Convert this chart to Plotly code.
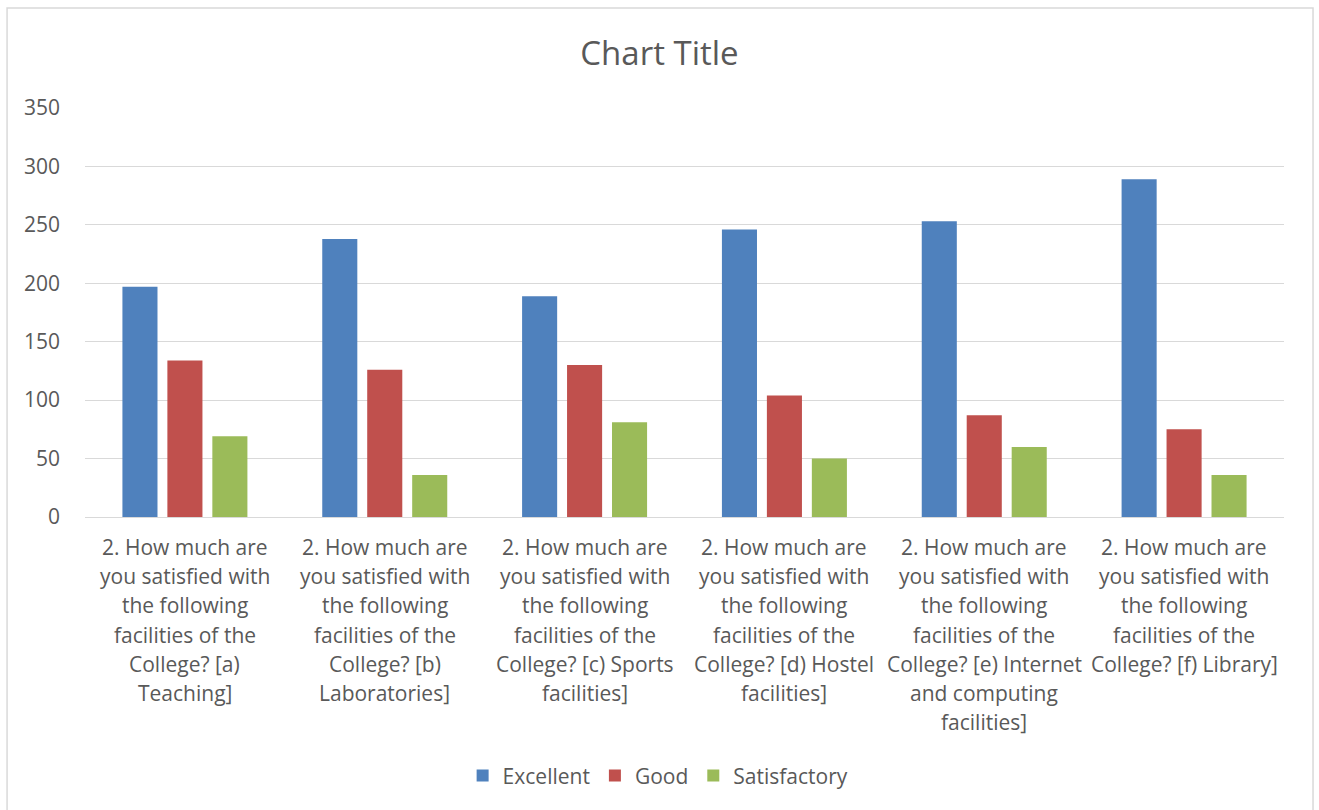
import plotly.graph_objects as go

# Survey: satisfaction with college facilities
categories = [
    "2. How much are you satisfied with the following facilities of the College? [a) Teaching]",
    "2. How much are you satisfied with the following facilities of the College? [b) Laboratories]",
    "2. How much are you satisfied with the following facilities of the College? [c) Sports facilities]",
    "2. How much are you satisfied with the following facilities of the College? [d) Hostel facilities]",
    "2. How much are you satisfied with the following facilities of the College? [e) Internet and computing facilities]",
    "2. How much are you satisfied with the following facilities of the College? [f) Library]",
]

# Wrapped category labels, one list of lines per category
tick_labels = [
    ["2. How much are", "you satisfied with", "the following", "facilities of the", "College? [a)", "Teaching]"],
    ["2. How much are", "you satisfied with", "the following", "facilities of the", "College? [b)", "Laboratories]"],
    ["2. How much are", "you satisfied with", "the following", "facilities of the", "College? [c) Sports", "facilities]"],
    ["2. How much are", "you satisfied with", "the following", "facilities of the", "College? [d) Hostel", "facilities]"],
    ["2. How much are", "you satisfied with", "the following", "facilities of the", "College? [e) Internet", "and computing", "facilities]"],
    ["2. How much are", "you satisfied with", "the following", "facilities of the", "College? [f) Library]"],
]

excellent = [197, 238, 189, 246, 253, 289]
good = [134, 126, 130, 104, 87, 75]
satisfactory = [69, 36, 81, 50, 60, 36]

y_ticks = [0, 50, 100, 150, 200, 250, 300, 350]

TEXT = "#595959"
GRID = "#d9d9d9"
FONT = "Open Sans, sans-serif"

fig = go.Figure()
for name, vals, color in [
    ("Excellent", excellent, "#4f81bd"),
    ("Good", good, "#c0504d"),
    ("Satisfactory", satisfactory, "#9bbb59"),
]:
    fig.add_trace(go.Bar(x=categories, y=vals, name=name, marker_color=color,
                         marker_line_width=0))

# Category labels drawn line by line under each group
for cat, lines in zip(categories, tick_labels):
    for i, line in enumerate(lines):
        fig.add_annotation(x=cat, y=0, xref="x", yref="y", text=line,
                           showarrow=False, yanchor="middle",
                           yshift=-30 - 29.2 * i,
                           font=dict(family=FONT, size=21, color=TEXT))

# Outer chart frame
fig.add_shape(type="rect", xref="paper", yref="paper",
              x0=-0.065, x1=1.0242, y0=-0.73, y1=1.2445,
              line=dict(color="#d9d9d9", width=1.5), fillcolor="rgba(0,0,0,0)",
              layer="below")

fig.update_layout(
    width=1319, height=810,
    margin=dict(l=85, r=35, t=108, b=293),
    paper_bgcolor="white", plot_bgcolor="white",
    bargap=0.325, bargroupgap=0.22,
    title=dict(text="Chart Title", x=0.5, xanchor="center", y=1 - 53 / 810,
               yanchor="middle", font=dict(family=FONT, size=33, color=TEXT)),
    font=dict(family=FONT, size=21, color=TEXT),
    legend=dict(orientation="h", x=0.478, xanchor="center", y=-0.633,
                yanchor="middle", font=dict(family=FONT, size=21, color=TEXT),
                itemwidth=30, traceorder="normal"),
    xaxis=dict(showticklabels=False, showgrid=False, zeroline=False,
               showline=True, linecolor=GRID, linewidth=1),
    yaxis=dict(range=[0, 350], tickvals=y_ticks, showgrid=True, gridcolor=GRID,
               gridwidth=1, zeroline=False, showline=False, ticks="",
               ticklabelstandoff=24,
               tickfont=dict(family=FONT, size=21, color=TEXT)),
)

fig.write_html("out.html")
